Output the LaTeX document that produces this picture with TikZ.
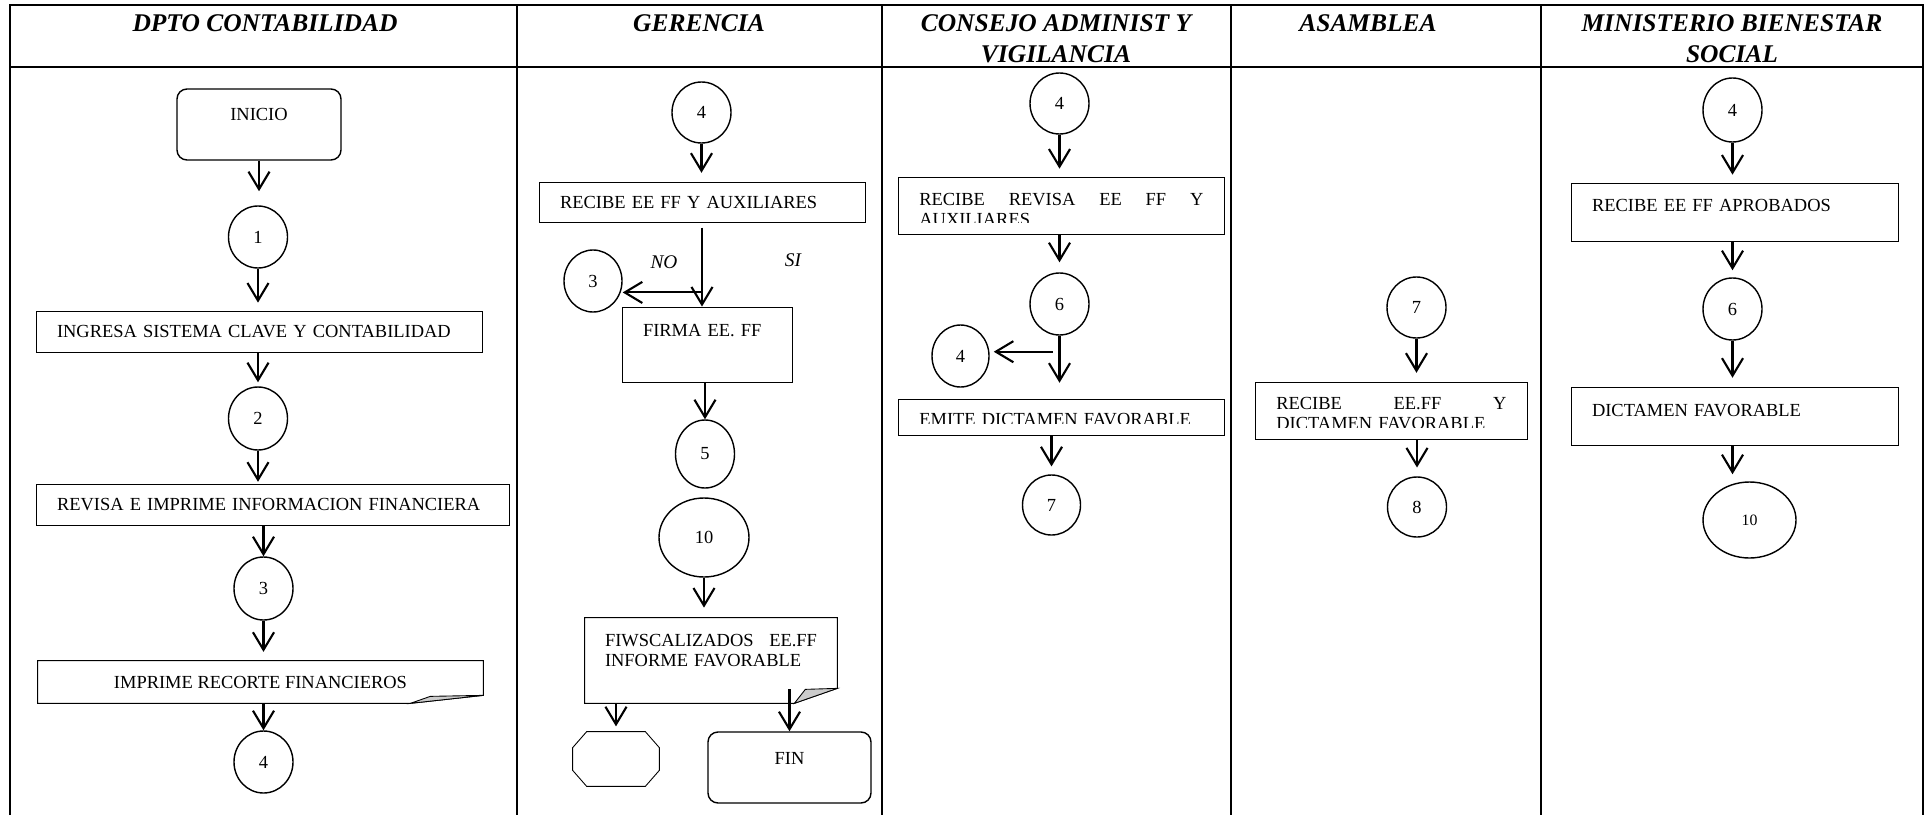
\documentclass[tikz,border=0pt]{standalone}
\usepackage{fontspec}
\setmainfont{Liberation Serif}
\usetikzlibrary{arrows.meta, calc, shapes.geometric}

\begin{document}
\begin{tikzpicture}[x=0.02cm, y=-0.02cm, font=\fontsize{10.5}{11.8}\selectfont,
  marco/.style={line width=1.1pt},
  linea/.style={line width=.5pt},
  doblez/.style={draw, fill=gray!40, line width=.5pt},
  cabeza/.style={font=\fontsize{14.5}{17.6}\selectfont\bfseries\itshape, align=center, inner sep=0pt, anchor=north},
  proc/.style 2 args={draw, line width=.5pt, inner sep=0pt, minimum width=#1*0.02cm, minimum height=#2*0.02cm, text width=(#1-42)*0.02cm, align=left},
  rbox/.style 2 args={draw, line width=.8pt, rounded corners=0.2cm, inner sep=0pt, minimum width=#1*0.02cm, minimum height=#2*0.02cm, align=center},
  doc/.style 2 args={inner sep=0pt, minimum width=#1*0.02cm, minimum height=#2*0.02cm},
  conn/.style 2 args={draw, ellipse, line width=.8pt, inner sep=0pt, minimum width=#1*0.02cm, minimum height=#2*0.02cm},
  texto/.style={inner sep=0pt, anchor=base west, align=left, text width=#1*0.02cm},
  rotulo/.style={font=\fontsize{11}{13}\selectfont\itshape, inner sep=0pt},
  flecha/.style={-{Straight Barb[length=10pt,width=12pt]}, line width=1.2pt, shorten >=#1},
  flecha/.default=4.5pt]
  \useasboundingbox (0,0) rectangle (1927,815);

  \draw[marco] (10,815) -- (10,5) -- (1923,5) -- (1923,815);
  \draw[marco] (10,67) -- (1923,67);
  \draw[marco] (517,5) -- (517,815) (882,5) -- (882,815) (1231,5) -- (1231,815) (1541,5) -- (1541,815);

  \node[cabeza] (hcont) at (265,14.5) {DPTO CONTABILIDAD};
  \node[cabeza] (hger) at (699,14.5) {GERENCIA};
  \node[cabeza] (hcons) at (1056,14.5) {CONSEJO ADMINIST Y\\VIGILANCIA};
  \node[cabeza] (hasam) at (1368,14.5) {ASAMBLEA};
  \node[cabeza] (hmin) at (1732,14.5) {MINISTERIO BIENESTAR\\SOCIAL};

  \node[rbox={164}{71}, text depth=11.4pt] (inicio) at (259,124.5) {INICIO};
  \node[conn={59}{62}] (c1) at (258,237) {1};
  \node[proc={446}{41}] (ingresa) at (259,331.5) {INGRESA SISTEMA CLAVE Y CONTABILIDAD};
  \node[conn={59}{63}] (c2) at (258,418.5) {2};
  \node[proc={473}{41}] (revisa) at (272.5,504.5) {REVISA E IMPRIME INFORMACION FINANCIERA};
  \node[conn={59}{63}] (c3) at (263.5,588.5) {3};
  \node[doc={445}{42}] (imp) at (260.5,682) {IMPRIME RECORTE FINANCIEROS};
  \draw[linea] (imp.north west) -- (imp.north east) -- ($(imp.south east)+(0,-8)$) -- ($(imp.south east)+(-73,0)$) -- (imp.south west) -- cycle;
  \draw[doblez] ($(imp.south east)+(-73,0)$) -- ($(imp.south east)+(-53,-7)$) -- ($(imp.south east)+(0,-8)$) -- cycle;
  \node[conn={59}{62}] (c4a) at (263.5,762) {4};

  \draw[flecha=8pt] (inicio.south) -- (inicio.south |- c1.north);
  \draw[flecha] (c1.south) -- (c1.south |- ingresa.north);
  \draw[flecha=2.3pt] (ingresa.south -| c2.north) -- (c2.north);
  \draw[flecha=1pt] (c2.south) -- (c2.south |- revisa.north);
  \draw[flecha=0pt] (revisa.south -| c3.north) -- (c3.north);
  \draw[flecha=5pt] (c3.south) -- (c3.south |- imp.north);
  \draw[flecha=0pt] (imp.south -| c4a.north) -- (c4a.north);

  \node[conn={59}{61}] (c4b) at (701.5,112.5) {4};
  \node[proc={326}{40}] (recg) at (702,202) {RECIBE EE FF Y AUXILIARES};
  \node[conn={58}{62}] (c3b) at (593,281) {3};
  \node[rotulo] (no) at (664,262) {NO};
  \node[rotulo] (si) at (793,260) {SI};
  \node[proc={170}{75}, text depth=16.5pt] (firma) at (707,344.5) {FIRMA EE. FF};
  \node[conn={59}{68}] (c5) at (705,454) {5};
  \node[conn={90}{79}] (c10) at (704,537.5) {10};
  \node[doc={252}{85}, text width=212*0.02cm, align=left, text depth=23.3pt] (fisc) at (711,660.5) {FIWSCALIZADOS\hfill EE.FF\\INFORME FAVORABLE};
  \draw[linea] (fisc.north west) -- (fisc.north east) -- ($(fisc.south east)+(0,-15)$) -- ($(fisc.south east)+(-43,0)$) -- (fisc.south west) -- cycle;
  \draw[doblez] ($(fisc.south east)+(-43,0)$) -- ($(fisc.south east)+(-32,-14)$) -- ($(fisc.south east)+(0,-15)$) -- cycle;
  \node[doc={86}{54}] (oct) at (616,759) {};
  \draw[linea] ($(oct.north west)+(14,0)$) -- ($(oct.north east)+(-14,0)$) -- ($(oct.north east)+(0,16)$) -- ($(oct.south east)+(0,-16)$) -- ($(oct.south east)+(-14,0)$) -- ($(oct.south west)+(14,0)$) -- ($(oct.south west)+(0,-16)$) -- ($(oct.north west)+(0,16)$) -- cycle;
  \node[rbox={163}{71}, text depth=10.8pt] (fin) at (789.5,767.5) {FIN};
  \coordinate (nopt) at ($(recg.south)+(0,70)$);

  \draw[flecha=5pt] (c4b.south) -- (c4b.south |- recg.north);
  \draw[flecha=0pt, shorten <=3pt] (recg.south) -- (recg.south |- firma.north);
  \draw[flecha=0pt] (nopt) -- (c3b.east |- nopt);
  \draw[flecha=0pt] (firma.south -| c5.north) -- (c5.north);
  \draw[flecha=5.7pt] (c10.south) -- (c10.south |- fisc.north);
  \draw[flecha=3pt] (fisc.south -| oct.north) -- (oct.north);
  \draw[flecha=0pt] ($(fisc.south -| fin.north)+(0,-14)$) -- (fin.north);

  \node[conn={59}{61}] (c4c) at (1059.5,103.5) {4};
  \node[proc={326}{57}] (recc) at (1061,205.5) {};
  \begin{scope}
    \clip (898,177) rectangle (1224,222.5);
    \node[texto=284] (recctxt) at (919,205) {RECIBE\hfill REVISA\hfill EE\hfill FF\hfill Y\\AUXILIARES};
  \end{scope}
  \node[conn={59}{62}] (c6c) at (1059.5,304) {6};
  \node[conn={57}{62}] (c4d) at (960.5,356) {4};
  \node[proc={326}{36}] (emite) at (1061,417) {};
  \begin{scope}
    \clip (898,399) rectangle (1224,423.5);
    \node[texto=284] (emitetxt) at (919,425.5) {EMITE DICTAMEN FAVORABLE};
  \end{scope}
  \node[conn={58}{60}] (c7c) at (1051.5,505) {7};
  \coordinate (neg) at ($(c6c.south)+(-7,16)$);

  \draw[flecha] (c4c.south) -- (c4c.south |- recc.north);
  \draw[flecha=5.7pt] (recc.south -| c6c.south) -- (c6c.north);
  \draw[flecha=9pt] (c6c.south) -- (c6c.south |- emite.north);
  \draw[flecha=2.3pt] (neg) -- (c4d.east |- neg);
  \draw[flecha] (emite.south -| c7c.north) -- (c7c.north);

  \node[conn={59}{61}] (c7d) at (1416.5,307.5) {7};
  \node[proc={272}{57}] (reca) at (1391,410.5) {};
  \begin{scope}
    \clip (1255,382) rectangle (1527,427.5);
    \node[texto=230] (recatxt) at (1276,409) {RECIBE\hfill EE.FF\hfill Y\\DICTAMEN FAVORABLE};
  \end{scope}
  \node[conn={59}{60}] (c8) at (1417,507) {8};

  \draw[flecha=5pt] (c7d.south) -- (c7d.south |- reca.north);
  \draw[flecha=5pt] (reca.south -| c8.north) -- (c8.north);

  \node[conn={59}{64}] (c4e) at (1732.5,110) {4};
  \node[proc={327}{58}, text depth=8pt] (recm) at (1734.5,212) {RECIBE EE FF APROBADOS};
  \node[conn={59}{62}] (c6e) at (1732.5,309) {6};
  \node[proc={327}{58}, text depth=6.8pt] (dict) at (1734.5,416) {DICTAMEN FAVORABLE};
  \node[conn={93}{76}, font=\fontsize{9}{10}\selectfont] (c10e) at (1749.5,520) {10};

  \draw[flecha] (c4e.south) -- (c4e.south |- recm.north);
  \draw[flecha=4pt] (recm.south -| c6e.south) -- (c6e.north);
  \draw[flecha=5pt] (c6e.south) -- (c6e.south |- dict.north);
  \draw[flecha=4pt] (dict.south -| c6e.south) -- (c6e.south |- c10e.north);
\end{tikzpicture}
\end{document}
